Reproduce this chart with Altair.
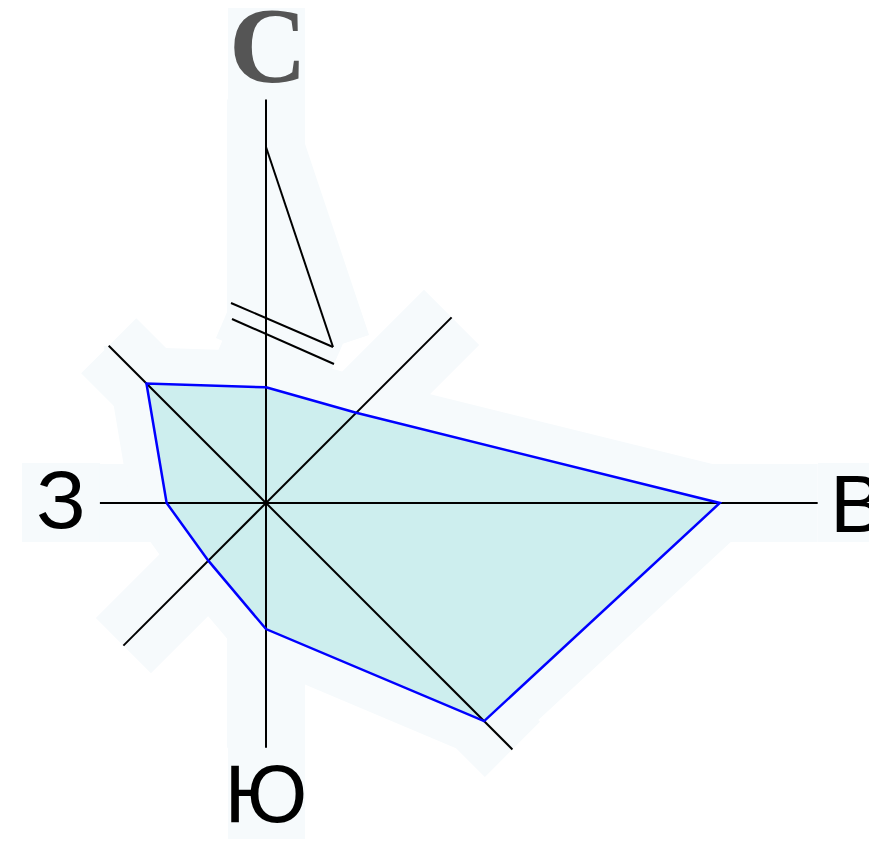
import altair as alt
import pandas as pd
import numpy as np

# ---- data -------------------------------------------------------------
directions = ["С", "СВ", "В", "ЮВ", "Ю", "ЮЗ", "З", "СЗ"]
angles_deg = [90, 45, 0, -45, -90, -135, 180, 135]
freq_pct = [7.8, 8.6, 30.6, 20.8, 8.5, 5.5, 6.7, 11.4]      # wind frequency, %
axis_len_pct = [27.2, 17.7, 37.2, 23.5, 16.5, 13.6, 11.2, 15.0]  # length of the direction axes
PX_PER_PCT = 14.83

# north arrow segments (offsets from centre, px)
arrow_x1 = [0, -35, -34]
arrow_y1 = [356, 200, 184]
arrow_x2 = [67, 67, 68]
arrow_y2 = [156, 156, 139]

# compass labels
label_text = ["С", "З", "Ю"]
label_x = [2, -205, 0]
label_y = [421, -25, -319]
east_label = "В"

# light background boxes behind the labels (offsets from centre, px)
box_x1 = [-38, -244, -38, 552]
box_x2 = [39, -166, 39, 620]
box_y1 = [503, 40, -242, 40]
box_y2 = [403, -39, -345, -39]

HALO = "#f6fafc"
FILL = "#cdeeee"
LINE = "#0000ff"

# ---- tables -----------------------------------------------------------
rad = np.deg2rad(angles_deg)
r = np.array(freq_pct) * PX_PER_PCT
poly = pd.DataFrame({"dir": directions, "x": r * np.cos(rad), "y": r * np.sin(rad)})
poly["i"] = range(len(poly))
poly = pd.concat([poly, poly.iloc[[0]].assign(i=len(poly))], ignore_index=True)

ra = np.array(axis_len_pct) * PX_PER_PCT
axes = pd.DataFrame({"dir": directions, "x": 0.0, "y": 0.0,
                     "x2": ra * np.cos(rad), "y2": ra * np.sin(rad)})
arrow = pd.DataFrame({"x": arrow_x1, "y": arrow_y1, "x2": arrow_x2, "y2": arrow_y2})
labels = pd.DataFrame({"t": label_text, "x": label_x, "y": label_y})
east = pd.DataFrame({"t": [east_label], "x": [564], "y": [-29]})
boxes = pd.DataFrame({"x": box_x1, "x2": box_x2, "y": box_y1, "y2": box_y2})

xs = alt.Scale(domain=[-258, 603], nice=False, zero=False)
ys = alt.Scale(domain=[-336, 495], nice=False, zero=False)
X = lambda f="x": alt.X(f"{f}:Q", scale=xs, axis=None)
Y = lambda f="y": alt.Y(f"{f}:Q", scale=ys, axis=None)

halo_boxes = alt.Chart(boxes).mark_rect(color=HALO).encode(
    x=X(), x2="x2:Q", y=Y(), y2="y2:Q")
halo_axes = alt.Chart(axes).mark_rule(color=HALO, strokeWidth=78, strokeCap="butt").encode(
    x=X(), y=Y(), x2="x2:Q", y2="y2:Q")
halo_arrow = alt.Chart(arrow).mark_rule(color=HALO, strokeWidth=76, strokeCap="butt").encode(
    x=X(), y=Y(), x2="x2:Q", y2="y2:Q")
halo_poly = alt.Chart(poly).mark_line(color=HALO, strokeWidth=72, strokeJoin="miter",
                                      strokeMiterLimit=4).encode(
    x=X(), y=Y(), order="i:Q")

fill = alt.Chart(poly).mark_line(fill=FILL, stroke=FILL, strokeWidth=0.1).encode(
    x=X(), y=Y(), order="i:Q")
axis_lines = alt.Chart(axes).mark_rule(color="black", strokeWidth=2).encode(
    x=X(), y=Y(), x2="x2:Q", y2="y2:Q")
arrow_lines = alt.Chart(arrow).mark_rule(color="black", strokeWidth=2).encode(
    x=X(), y=Y(), x2="x2:Q", y2="y2:Q")
outline = alt.Chart(poly).mark_line(color=LINE, strokeWidth=2.5, strokeJoin="miter").encode(
    x=X(), y=Y(), order="i:Q")

north = alt.Chart(labels.iloc[[0]]).mark_text(
    font="Liberation Serif", fontSize=108, fontWeight="bold", color="#555555",
    align="center", baseline="alphabetic").encode(x=X(), y=Y(), text="t:N")
others = alt.Chart(labels.iloc[1:]).mark_text(
    font="Liberation Sans", fontSize=82, color="black", align="center",
    baseline="alphabetic").encode(x=X(), y=Y(), text="t:N")
east_t = alt.Chart(east).mark_text(
    font="Liberation Sans", fontSize=82, color="black", align="left",
    baseline="alphabetic").encode(x=X(), y=Y(), text="t:N")

chart = alt.layer(
    halo_boxes, halo_axes, halo_arrow, halo_poly,
    fill, axis_lines, arrow_lines, outline, north, others, east_t
).properties(
    width=861, height=831, padding=0, autosize=alt.AutoSizeParams(type="none")
).configure_view(stroke=None)

chart.save("out.html", embed_options={"renderer": "svg", "actions": False})
